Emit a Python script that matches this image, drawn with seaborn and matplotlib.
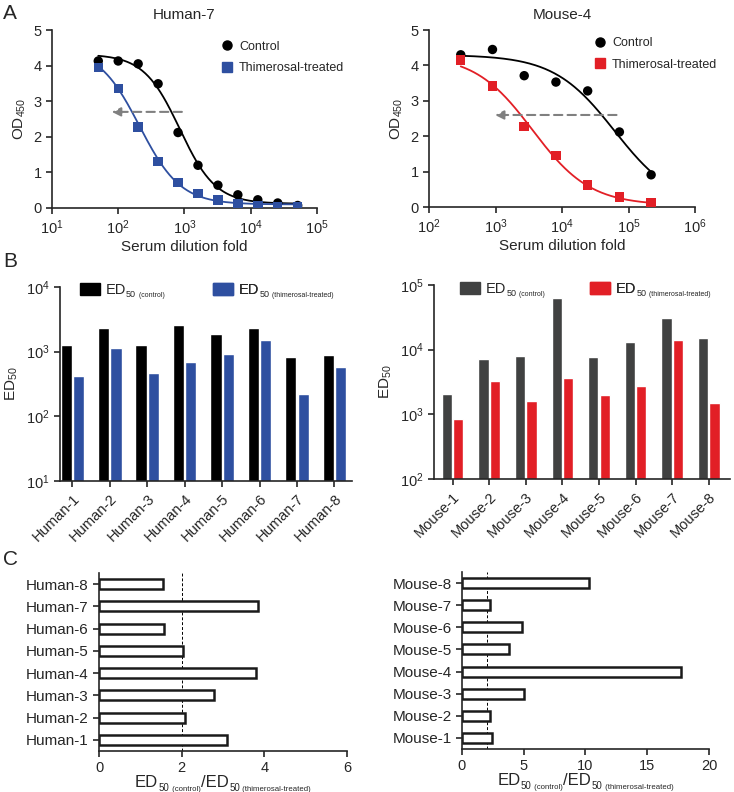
import numpy as np
import pandas as pd
import matplotlib
matplotlib.use('Agg')
import matplotlib.pyplot as plt
import seaborn as sns
from matplotlib.patches import Patch
from matplotlib.lines import Line2D
from matplotlib.ticker import NullLocator

# ---- data ----
human7_dilution = [50, 100, 200, 400, 800, 1600, 3200, 6400, 12800, 25600, 51200]
human7_control = [4.13, 4.13, 4.05, 3.49, 2.12, 1.2, 0.64, 0.37, 0.23, 0.14, 0.07]
human7_treated = [3.95, 3.36, 2.27, 1.31, 0.72, 0.41, 0.22, 0.11, 0.06, 0.04, 0.04]

mouse4_dilution = [300, 900, 2700, 8100, 24300, 72900, 218700]
mouse4_control = [4.3, 4.45, 3.71, 3.53, 3.28, 2.12, 0.91]
mouse4_treated = [4.15, 3.42, 2.28, 1.45, 0.62, 0.28, 0.11]

# 4-parameter logistic fits (top, bottom, EC50, hill) estimated from the drawn curves
human7_control_fit = (4.32, 0.12, 850, 1.6)
human7_treated_fit = (4.5, 0.1, 210, 1.4)
mouse4_control_fit = (4.3, 0.0, 61700, 0.95)
mouse4_treated_fit = (4.3, 0.05, 3600, 1.0)

# arrows (tail x, head x, y)
human7_arrow = (915, 80, 2.7)
mouse4_arrow = (66000, 980, 2.6)

human_ids = ['Human-1', 'Human-2', 'Human-3', 'Human-4', 'Human-5', 'Human-6', 'Human-7', 'Human-8']
human_ed50_control = [1253, 2323, 1283, 2585, 1854, 2350, 837, 888]
human_ed50_treated = [416, 1127, 462, 692, 931, 1534, 219, 586]

mouse_ids = ['Mouse-1', 'Mouse-2', 'Mouse-3', 'Mouse-4', 'Mouse-5', 'Mouse-6', 'Mouse-7', 'Mouse-8']
mouse_ed50_control = [2052, 7210, 8020, 62300, 7650, 13200, 31300, 15000]
mouse_ed50_treated = [843, 3300, 1620, 3580, 2005, 2760, 14200, 1490]

human_ratio = [3.09, 2.07, 2.79, 3.80, 2.03, 1.57, 3.84, 1.54]
mouse_ratio = [2.45, 2.26, 5.03, 17.7, 3.82, 4.87, 2.26, 10.28]

BLUE = '#2E4FA0'
RED = '#E21F26'
DGRAY = '#404141'

sns.set_style('ticks')
plt.rcParams['font.family'] = ['Liberation Sans', 'DejaVu Sans']
plt.rcParams['mathtext.fontset'] = 'custom'
plt.rcParams['mathtext.rm'] = 'Liberation Sans'
plt.rcParams['mathtext.it'] = 'Liberation Sans:italic'
plt.rcParams['mathtext.bf'] = 'Liberation Sans:bold'
plt.rcParams['axes.linewidth'] = 1.2
plt.rcParams['xtick.major.width'] = 1.2
plt.rcParams['ytick.major.width'] = 1.2
plt.rcParams['xtick.major.size'] = 4
plt.rcParams['ytick.major.size'] = 4
plt.rcParams['xtick.labelsize'] = 10.5
plt.rcParams['ytick.labelsize'] = 10.5
plt.rcParams['axes.labelsize'] = 11

fig = plt.figure(figsize=(7.34, 7.92), dpi=100)
axA1 = fig.add_axes([0.0708, 0.7374, 0.361, 0.2247])
axA2 = fig.add_axes([0.5845, 0.7386, 0.3624, 0.2235])
axB1 = fig.add_axes([0.0817, 0.3927, 0.398, 0.245])
axB2 = fig.add_axes([0.5913, 0.3952, 0.4033, 0.245])
axC1 = fig.add_axes([0.1349, 0.0518, 0.338, 0.2247])
axC2 = fig.add_axes([0.6294, 0.0543, 0.3365, 0.2235])


def logistic(x, fit):
    top, bottom, ec50, hill = fit
    return bottom + (top - bottom) / (1 + (x / ec50) ** hill)


def sub_after(ax, prev, base, pieces, dx=0.3):
    # append text pieces after `prev`, bottoms tied to the `base` text
    out = []
    for s, size, dy in pieces:
        prev = ax.annotate(s, xy=(1, 0), xycoords=(prev, base), xytext=(dx, dy),
                           textcoords='offset points', fontsize=size, va='bottom',
                           ha='left', zorder=6)
        out.append(prev)
    return out


def curve_panel(ax, title, dil, ctrl, trt, fit_c, fit_t, color, arrow, xlim, leg_anchor):
    pts = pd.DataFrame({'dilution': dil * 2, 'OD': ctrl + trt,
                        'group': ['Control'] * len(dil) + ['Thimerosal-treated'] * len(dil)})
    xs = np.logspace(np.log10(dil[0]), np.log10(dil[-1]), 200)
    fits = pd.DataFrame({'dilution': np.concatenate([xs, xs]),
                         'OD': np.concatenate([logistic(xs, fit_c), logistic(xs, fit_t)]),
                         'group': ['Control'] * len(xs) + ['Thimerosal-treated'] * len(xs)})
    pal = {'Control': 'black', 'Thimerosal-treated': color}
    sns.lineplot(data=fits, x='dilution', y='OD', hue='group', palette=pal,
                 lw=1.3, legend=False, ax=ax)
    sns.scatterplot(data=pts, x='dilution', y='OD', hue='group', style='group',
                    markers={'Control': 'o', 'Thimerosal-treated': 's'}, palette=pal,
                    s=46, edgecolor='none', legend=False, ax=ax, zorder=3)
    ax.annotate('', xy=(arrow[1], arrow[2]), xytext=(arrow[0], arrow[2]),
                arrowprops=dict(arrowstyle='-|>', color='#808080', lw=1.5,
                                linestyle=(0, (4, 2.5)), mutation_scale=13,
                                shrinkA=0, shrinkB=0))
    ax.set_xscale('log')
    ax.set_xlim(*xlim)
    ax.set_ylim(0, 5)
    ax.xaxis.set_minor_locator(NullLocator())
    ax.set_yticks([0, 1, 2, 3, 4, 5])
    ax.set_xlabel('Serum dilution fold', labelpad=2)
    ax.set_ylabel('OD$_{450}$', labelpad=4)
    ax.set_title(title, fontsize=11, pad=8)
    sns.despine(ax=ax)
    handles = [Line2D([], [], ls='none', marker='o', color='black', markersize=6.5),
               Line2D([], [], ls='none', marker='s', color=color, markersize=6.5)]
    ax.legend(handles, ['Control', 'Thimerosal-treated'], loc='upper left',
              bbox_to_anchor=leg_anchor, frameon=False, fontsize=9, handlelength=1,
              handletextpad=0.45, borderpad=0, borderaxespad=0, labelspacing=0.75)


curve_panel(axA1, 'Human-7', human7_dilution, human7_control, human7_treated,
            human7_control_fit, human7_treated_fit, BLUE, human7_arrow, (10, 1e5), (0.638, 0.94))
curve_panel(axA2, 'Mouse-4', mouse4_dilution, mouse4_control, mouse4_treated,
            mouse4_control_fit, mouse4_treated_fit, RED, mouse4_arrow, (100, 1e6), (0.62, 0.958))

leg_sub_control = [('50', 6.5, -1.5), (' (control)', 5, -1.5)]
leg_sub_treated = [('50', 6.5, -1.5), (' (thimerosal-treated)', 5, -1.5)]


def bar_panel(ax, ids, ctrl, trt, c_color, t_color, ylim, xlim, width, leg_x, leg_y):
    df = pd.DataFrame({'id': ids * 2, 'ED50': ctrl + trt,
                       'group': ['control'] * len(ids) + ['treated'] * len(ids)})
    sns.barplot(data=df, x='id', y='ED50', hue='group',
                palette={'control': c_color, 'treated': t_color}, saturation=1,
                width=width, gap=0.1, legend=False, ax=ax)
    ax.set_yscale('log')
    ax.set_ylim(*ylim)
    ax.set_xlim(*xlim)
    ax.yaxis.set_minor_locator(NullLocator())
    ax.set_xlabel('')
    ax.set_ylabel('ED$_{50}$', labelpad=4)
    plt.setp(ax.get_xticklabels(), rotation=45, ha='right', rotation_mode='anchor', fontsize=10.5)
    sns.despine(ax=ax)
    legs = []
    for col, x0, sub in [(c_color, leg_x[0], leg_sub_control), (t_color, leg_x[1], leg_sub_treated)]:
        leg = ax.legend([Patch(color=col)], ['ED'], loc='upper left',
                        bbox_to_anchor=(x0, leg_y), frameon=False, fontsize=10.5,
                        handlelength=1.4, handleheight=0.85, handletextpad=0.35,
                        borderpad=0, borderaxespad=0)
        ax.add_artist(leg)
        legs.append((leg, sub))
    return legs


legB1 = bar_panel(axB1, human_ids, human_ed50_control, human_ed50_treated, 'black', BLUE,
                  (10, 1e4), (-0.33, 7.47), 0.66, (0.068, 0.524), 1.02)
legB2 = bar_panel(axB2, mouse_ids, mouse_ed50_control, mouse_ed50_treated, DGRAY, RED,
                  (100, 1e5), (-0.51, 7.58), 0.62, (0.088, 0.527), 1.015)


def ratio_panel(ax, ids, ratio, xmax, step):
    df = pd.DataFrame({'id': ids, 'ratio': ratio})
    sns.barplot(data=df, x='ratio', y='id', order=ids[::-1], color='white',
                edgecolor='#1a1a1a', linewidth=1.8, width=0.45, ax=ax)
    ax.axvline(2, color='black', lw=0.7, ls=(0, (3, 2)), zorder=0)
    ax.set_xlim(0, xmax)
    ax.set_ylim(7.5, -0.5)
    ax.set_xticks(np.arange(0, xmax + 0.1, step))
    ax.set_ylabel('')
    ax.set_xlabel('')
    plt.setp(ax.get_yticklabels(), fontsize=11)
    sns.despine(ax=ax)
    # composite x label ED50(control)/ED50(thimerosal-treated)
    base = ax.text(0.2, -0.205, 'ED', transform=ax.transAxes, fontsize=12,
                   ha='left', va='baseline')
    parts = sub_after(ax, base, base, [('50', 7, -2), (' (control)', 5.6, -2), ('/ED', 12, 0)])
    parts += sub_after(ax, parts[-1], base, [('50', 7, -2), (' (thimerosal-treated)', 5.6, -2)])
    return base, parts


labC1 = ratio_panel(axC1, human_ids, human_ratio, 6, 2)
labC2 = ratio_panel(axC2, mouse_ids, mouse_ratio, 20, 5)

for lbl, y in [('A', 0.995), ('B', 0.682), ('C', 0.305)]:
    fig.text(0.004, y, lbl, fontsize=15, va='top', ha='left')

# first draw fixes legend positions, then attach the small subscripts
fig.canvas.draw()
for ax, legs in [(axB1, legB1), (axB2, legB2)]:
    for leg, sub in legs:
        t = leg.get_texts()[0]
        sub_after(ax, t, t, sub)

# centre the composite C labels under their axes
r = fig.canvas.get_renderer()
for ax, (base, parts) in [(axC1, labC1), (axC2, labC2)]:
    x0 = base.get_window_extent(r).x0
    x1 = parts[-1].get_window_extent(r).x1
    axbb = ax.get_window_extent(r)
    shift = ((axbb.x0 + axbb.x1) / 2 - (x0 + x1) / 2) / axbb.width
    base.set_x(base.get_position()[0] + shift)

fig.savefig('out.png', dpi=100)
